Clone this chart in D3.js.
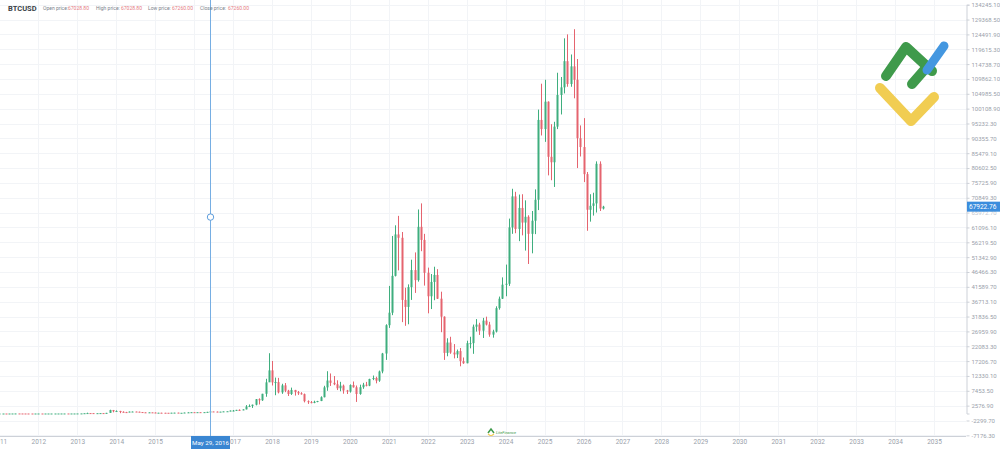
<!DOCTYPE html>
<html><head><meta charset="utf-8">
<script src="https://cdn.jsdelivr.net/npm/d3@7"></script>
<style>
body{margin:0;background:#fff;}
svg{display:block;font-family:Roboto,"Open Sans",sans-serif;}
</style>
</head><body>
<svg id="chart" width="1000" height="449"></svg>
<script>
// ---------- DATA (monthly BTCUSD candles starting Jan 2011) ----------
const firstYear = 2011;
const opens = [
 0.3,0.5,0.9,0.78,3.5,8.7,16.1,13.4,8.2,5.1,3.25,2.97,
 4.72,5.5,4.86,4.9,4.95,5.14,6.7,9.35,10.2,12.4,11.2,12.6,
 13.45,20.4,33.4,93,139,129,97,106,135,133,204,1129,
 732,829,549,458,447,628,640,582,478,387,338,378,
 320,217,254,244,236,230,263,284,230,236,314,377,
 430,368,437,416,448,531,673,624,573,609,698,742,
 963,970,1190,1080,1350,2300,2480,2875,4700,4340,6470,10230,
 14160,10220,10330,6930,9240,7490,6400,7730,7030,6630,6370,4040,
 3740,3460,3850,4100,5350,8570,10820,10080,9590,8290,9150,7560,
 7200,9350,8600,6410,8630,9450,9140,11330,11650,10780,13800,19700,
 29000,33100,45200,58800,57700,37300,35000,41500,47100,43800,61300,57000,
 46200,38500,43200,45500,37700,31800,19900,23300,20000,19400,20500,17200,
 16500,23100,23100,28500,29200,27200,30500,29200,25900,26900,34600,37700,
 42300,42600,61100,71300,60600,67500,62700,64600,59000,63300,70200,96400,
 93400,102400,84300,82500,94200,104600,107100,115700,108200,114000,109600,90400,
 87500,78600,66900,68200,69000,82000,67300
];
const highs = [
 0.5,1.1,0.95,3.9,8.9,31.9,17.5,13.5,8.5,5.3,3.5,4.8,
 7.2,6.3,5.4,5.3,5.2,6.8,9.7,16.4,12.8,12.8,12.7,13.6,
 20.7,33.6,94,266,139,129,111,138,145,212,1242,1163,
 1023,880,720,540,630,680,660,600,490,420,458,384,
 320,267,300,260,248,268,315,284,241,335,495,465,
 462,440,440,467,550,780,680,626,610,720,754,970,
 1150,1200,1350,1350,2760,2980,2920,4760,4980,6470,11400,19800,
 17250,11800,11700,9760,10000,7770,8500,7760,7400,7000,6550,4300,
 4100,4200,4150,5640,9100,13880,13150,12300,10900,10400,9500,7750,
 9570,10500,9190,9470,10070,10380,11420,12470,12070,14100,19900,29300,
 41900,58300,61800,64900,59600,41300,42400,50500,52900,67000,69000,59000,
 47900,45800,48200,47400,40000,31900,24700,25200,22800,21000,21500,18400,
 23900,25200,29200,31000,29800,31400,31800,30100,27500,35200,38400,44700,
 48900,64000,73800,72800,71900,72000,70000,65100,66500,73600,99800,108300,
 109600,102500,95000,95800,111900,110500,123200,124500,117900,126200,116400,94600,
 97000,79300,72000,72500,82800,82800,68200
];
const lows = [
 0.3,0.5,0.7,0.55,3.0,8.0,12.0,7.5,4.5,2.0,2.0,2.8,
 4.7,4.3,4.3,4.8,4.9,5.1,6.5,7.1,10.0,9.9,10.3,12.3,
 13.3,19.1,33.2,50,105,88,65,100,120,100,200,380,
 731,100,440,340,430,545,566,455,366,290,320,311,
 152,212,230,215,228,220,254,200,227,236,298,350,
 350,365,400,414,439,515,610,465,560,604,680,740,
 750,920,890,1080,1350,2100,1830,2670,2970,4140,5500,10900,
 9200,6000,6600,6450,7000,5750,6100,5880,6100,6200,3650,3150,
 3350,3380,3700,4060,5300,7450,9050,9300,7700,7300,6500,6400,
 6850,8500,3800,6150,8100,8900,8970,10950,9900,10400,13200,17600,
 28100,32300,45000,47000,30000,28800,29300,37300,39600,43300,53300,42000,
 32900,34300,37200,37600,26700,17600,18800,19600,18100,18200,15500,16300,
 16500,21400,19600,26900,25800,24800,28900,25200,24900,26600,34100,37600,
 38500,41900,59000,59200,56600,58500,53500,49100,52600,58900,66800,91300,
 89200,78200,76600,74400,93400,98200,105100,107300,107300,103500,80600,84400,
 76000,60000,63000,65000,66000,66500,67000
];
const closes = [
 0.5,0.9,0.78,3.5,8.7,16.1,13.4,8.2,5.1,3.25,2.97,4.72,
 5.5,4.86,4.9,4.95,5.14,6.7,9.35,10.2,12.4,11.2,12.6,13.45,
 20.4,33.4,93,139,129,97,106,135,133,204,1129,732,
 829,549,458,447,628,640,582,478,387,338,378,320,
 217,254,244,236,230,263,284,230,236,314,377,430,
 368,437,416,448,531,673,624,573,609,698,742,963,
 970,1190,1080,1350,2300,2480,2875,4700,4340,6470,10230,14160,
 10220,10330,6930,9240,7490,6400,7730,7030,6630,6370,4040,3740,
 3460,3850,4100,5350,8570,10820,10080,9590,8290,9150,7560,7200,
 9350,8600,6410,8630,9450,9140,11330,11650,10780,13800,19700,29000,
 33100,45200,58800,57700,37300,35000,41500,47100,43800,61300,57000,46200,
 38500,43200,45500,37700,31800,19900,23300,20000,19400,20500,17200,16500,
 23100,23100,28500,29200,27200,30500,29200,25900,26900,34600,37700,42300,
 42600,61100,71300,60600,67500,62700,64600,59000,63300,70200,96400,93400,
 102400,84300,82500,94200,104600,107100,115700,108200,114000,109600,90400,87500,
 78600,66900,68200,69000,82000,67300,67922.76
];
const yTickLabels = ["-7176.30","-2299.70","2576.90","7453.50","12330.10","17206.70","22083.30",
 "26959.90","31836.50","36713.10","41589.70","46466.30","51342.90","56219.50","61096.10",
 "65972.70","70849.30","75725.90","80602.50","85479.10","90355.70","95232.30","100108.90",
 "104985.50","109862.10","114738.70","119615.30","124491.90","129368.50","134245.10"];
const yearLabels = [2011,2012,2013,2014,2015,2016,2017,2018,2019,2020,2021,2022,2023,
 2024,2025,2026,2027,2028,2029,2030,2031,2032,2033,2034,2035];
const symbol = "BTCUSD";
const headerFields = ["Open price:","High price:","Low price:","Close price:"];
const headerValues = ["67028.80","67028.80","67260.00","67260.00"];
const lastPriceLabel = "67922.76";
const crosshairDate = "2016-05-29";
const crosshairLabel = "May 29, 2016";
const crosshairValue = 64500;

// ---------- LAYOUT ----------
const W = 1000, H = 449;
const plotRight = 966, plotBottom = 436;
const svg = d3.select("#chart");

const x = d3.scaleTime()
  .domain([new Date(2012,0,1), new Date(2035,0,1)])
  .range([38.3, 934]);
const y = d3.scaleLinear()
  .domain([0, 134245.1])
  .range([413.5, 4.7]);

const candles = opens.map((o,i)=>({
  date: new Date(firstYear, i, 1), o, h: highs[i], l: lows[i], c: closes[i]
}));

svg.append("defs").append("clipPath").attr("id","plot")
  .append("rect").attr("x",0).attr("y",0).attr("width",plotRight).attr("height",plotBottom);

// grid
const grid = svg.append("g").attr("clip-path","url(#plot)");
const yVals = yTickLabels.map(Number);
grid.selectAll("line.h").data(yVals).join("line")
  .attr("x1",0).attr("x2",plotRight)
  .attr("y1",d=>Math.round(y(d))+0.5).attr("y2",d=>Math.round(y(d))+0.5)
  .attr("stroke","#f2f4f7").attr("stroke-width",1);
const yearDates = yearLabels.map(yr=>new Date(yr,0,1));
grid.selectAll("line.v").data(yearDates).join("line")
  .attr("x1",d=>Math.round(x(d))+0.5).attr("x2",d=>Math.round(x(d))+0.5)
  .attr("y1",0).attr("y2",plotBottom)
  .attr("stroke","#f2f4f7").attr("stroke-width",1);

// logo (watermark, top right)
const logo = svg.append("g").attr("fill","none").attr("stroke-linecap","round").attr("stroke-linejoin","round");
logo.append("path").attr("d","M886,76 L906,47 L932,71").attr("stroke","#3f9a4b").attr("stroke-width",10);
logo.append("path").attr("d","M912,84 L926,68").attr("stroke","#3f9a4b").attr("stroke-width",10);
logo.append("path").attr("d","M927,70 L944,46").attr("stroke","#4497e0").attr("stroke-width",9);
logo.append("path").attr("d","M880,88 L911,121 L934,97").attr("stroke","#f1cd52").attr("stroke-width",10);

// small watermark
const wm = svg.append("g");
wm.append("path").attr("d","M488,433 L491,429 L494,433").attr("stroke","#3f9a4b").attr("fill","none").attr("stroke-width",1.5);
wm.append("path").attr("d","M488,434 L491,436 L494,434").attr("stroke","#f1cd52").attr("fill","none").attr("stroke-width",1.2);
wm.append("text").attr("x",496).attr("y",434).attr("font-size",4).attr("fill","#3f9a4b").attr("font-style","italic").text("LiteFinance");

// candles
const up = "#3fae7e", down = "#e5646f";
const cg = svg.append("g").attr("clip-path","url(#plot)");
const cw = 2;
cg.selectAll("line.wick").data(candles).join("line")
  .attr("x1",d=>Math.round(x(d.date))+0.5).attr("x2",d=>Math.round(x(d.date))+0.5)
  .attr("y1",d=>y(d.h)).attr("y2",d=>y(d.l))
  .attr("stroke",d=>d.c>=d.o?up:down).attr("stroke-width",1);
cg.selectAll("rect.body").data(candles).join("rect")
  .attr("x",d=>Math.round(x(d.date))-0.5)
  .attr("width",cw)
  .attr("y",d=>Math.min(y(d.o),y(d.c)))
  .attr("height",d=>Math.max(1,Math.abs(y(d.o)-y(d.c))))
  .attr("fill",d=>d.c>=d.o?up:down);

// right axis
const yAxis = d3.axisRight(y).tickValues(yVals).tickFormat((d,i)=>yTickLabels[i]).tickSize(3).tickPadding(2);
const ya = svg.append("g").attr("transform",`translate(${plotRight+0.5},0)`).call(yAxis);
ya.select(".domain").attr("stroke","#cdd1d8");
ya.selectAll(".tick line").attr("stroke","#cdd1d8");
ya.selectAll(".tick text").attr("fill","#9aa1ab").attr("font-size",6).attr("font-family","Roboto,sans-serif");
ya.selectAll(".tick").filter(d=>Math.abs(d-65972.7)<1).select("text").attr("fill","#c3c8cf");

// bottom axis
const xAxis = d3.axisBottom(x).tickValues(yearDates).tickFormat(d=>String(d.getFullYear())).tickSize(0).tickPadding(3);
const xa = svg.append("g").attr("transform",`translate(0,${plotBottom+0.5})`).call(xAxis);
xa.select(".domain").attr("stroke","#cdd1d8").attr("d",`M0,0H${plotRight}`);
xa.selectAll(".tick text").attr("fill","#9aa1ab").attr("font-size",6.5).attr("font-family","Roboto,sans-serif");
xa.selectAll(".tick").filter(d=>d.getFullYear()===2016).remove();

// crosshair
const cd = d3.timeParse("%Y-%m-%d")(crosshairDate);
const cx = Math.round(x(cd))+0.5;
svg.append("line").attr("x1",cx).attr("x2",cx).attr("y1",0).attr("y2",plotBottom)
  .attr("stroke","#76aee3").attr("stroke-width",1);
svg.append("circle").attr("cx",cx).attr("cy",y(crosshairValue)).attr("r",3.2)
  .attr("fill","#fff").attr("stroke","#5d9ddc").attr("stroke-width",1);
svg.append("rect").attr("x",cx-19.5).attr("y",plotBottom).attr("width",39).attr("height",13).attr("fill","#3a86d2");
svg.append("text").attr("x",cx).attr("y",plotBottom+9).attr("text-anchor","middle")
  .attr("font-size",6.2).attr("fill","#fff").text(crosshairLabel);

// last price label
const lp = +lastPriceLabel;
svg.append("rect").attr("x",plotRight+1).attr("y",y(lp)-5).attr("width",W-plotRight-1).attr("height",10).attr("fill","#3b8ddd");
svg.append("text").attr("x",plotRight+3).attr("y",y(lp)+2.5).attr("font-size",6.5).attr("fill","#fff").text(lastPriceLabel);

// header
const hd = svg.append("g");
hd.append("text").attr("x",8).attr("y",10.5).attr("font-size",7.5).attr("font-weight","bold").attr("fill","#3a3f47").text(symbol);
const fx = [43,96,148,200], vx = [68,121,172,228];
headerFields.forEach((f,i)=>{
  hd.append("text").attr("x",fx[i]).attr("y",9.5).attr("font-size",5).attr("fill","#7c828c").text(f);
  hd.append("text").attr("x",vx[i]).attr("y",9.5).attr("font-size",5).attr("fill","#e57a82").text(headerValues[i]);
});
</script>
</body></html>
